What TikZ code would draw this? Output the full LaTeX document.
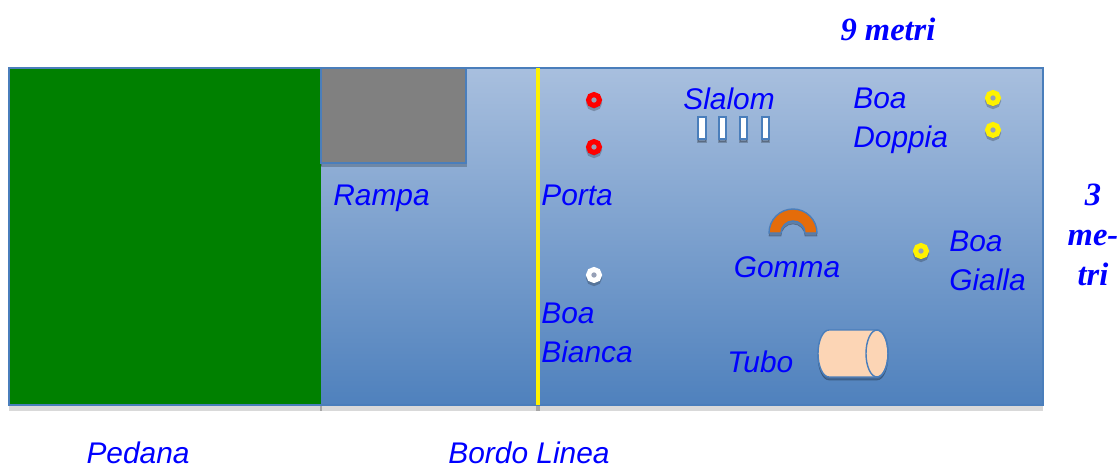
\documentclass[tikz,border=0pt]{standalone}
\usepackage{fontspec}
\setmainfont{Liberation Serif}
\setsansfont{Liberation Sans}
\usetikzlibrary{%
	calc,%
	positioning%
}
\definecolor{acquaalto}{RGB}{168,191,222}
\definecolor{acquabasso}{RGB}{79,129,189}
\definecolor{bordo}{RGB}{74,126,187}
\definecolor{pedana}{RGB}{0,128,0}
\definecolor{rampa}{RGB}{128,128,128}
\definecolor{gomma}{RGB}{228,108,10}
\definecolor{tubo}{RGB}{252,213,181}
\definecolor{foro}{RGB}{150,160,182}

\tikzset{
	lbl/.style={text=blue,inner sep=0pt,align=left,
		font=\sffamily\itshape\fontsize{17}{21.8}\selectfont},
	misura/.style={text=blue,inner sep=0pt,align=center,
		font=\rmfamily\bfseries\itshape\fontsize{18.5}{22.8}\selectfont},
	ombra/.style={preaction={draw=black,fill=black,opacity=.22,
		transform canvas={yshift=-0.06cm}}},
	boa/.style={circle,draw=#1,fill=foro,line width=0.1cm,
		minimum size=0.22cm,inner sep=0pt,ombra},
	paletto/.style={rectangle,draw=bordo,fill=white,line width=1pt,
		minimum width=0.15cm,minimum height=0.45cm,inner sep=0pt,ombra}
}

\begin{document}
\begin{tikzpicture}[x=0.02cm,y=-0.02cm]
	\useasboundingbox (0,0) rectangle (1119,470);
	% vasca
	\shade[top color=acquaalto,bottom color=acquabasso] (9,68) rectangle (1043,405);
	\fill[black!15] (9,405) rectangle (1043,411);
	\fill[black!35] (320,405) rectangle (322,411);
	\fill[black!35] (536,405) rectangle (540,411);
	\fill[pedana] (9,68) rectangle (321,405);
	\filldraw[fill=rampa,draw=bordo,line width=0.8pt,ombra] (321,68) rectangle (466,163);
	\draw[bordo,line width=0.85pt] (9,68) rectangle (1043,405);
	\draw[yellow,line width=0.08cm] (538,68) -- (538,405);
	% boe
	\node[boa=red] (porta1) at (594,100) {};
	\node[boa=red] (porta2) at (594,147) {};
	\node[boa=white] (bianca) at (594,275) {};
	\node[boa=yellow] (doppia1) at (993,98) {};
	\node[boa=yellow] (doppia2) at (993,130) {};
	\node[boa=yellow] (gialla) at (921,251) {};
	% slalom
	\node[paletto] (s1) at (702,128) {};
	\node[paletto] (s2) at (722.5,128) {};
	\node[paletto] (s3) at (743.5,128) {};
	\node[paletto] (s4) at (765.5,128) {};
	% gomma e tubo
	\filldraw[fill=gomma,draw=bordo,line width=0.8pt,ombra] (769,233)
		arc[start angle=180,end angle=360,radius=24] -- (805,233)
		arc[start angle=0,end angle=-180,radius=12] -- cycle;
	\filldraw[fill=tubo,draw=bordo,line width=0.8pt,ombra] (829,330) -- (877,330)
		arc[start angle=270,end angle=450,x radius=11,y radius=23.5] -- (829,377)
		arc[start angle=90,end angle=270,x radius=11,y radius=23.5] -- cycle;
	\draw[bordo,line width=0.8pt] (877,353.5) ellipse[x radius=11,y radius=23.5];
	% scritte
	\node[lbl,anchor=base] (slalom) at (729,109) {Slalom};
	\node[lbl,anchor=north west] (doppia) at (853,88) {Boa\\Doppia};
	\node[lbl,anchor=base west] (rampaT) at (333,205) {Rampa};
	\node[lbl,anchor=base west] (porta) at (541,205) {Porta};
	\node[lbl,anchor=north west] (biancaT) at (541,303) {Boa\\Bianca};
	\node[lbl,anchor=base] (gommaT) at (787,277) {Gomma};
	\node[lbl,anchor=north west] (giallaT) at (949,231) {Boa\\Gialla};
	\node[lbl,anchor=base west] (tuboT) at (727,372) {Tubo};
	\node[lbl,anchor=base] (pedanaT) at (138,463) {Pedana};
	\node[lbl,anchor=base] (lineaT) at (529,463) {Bordo Linea};
	\node[misura,anchor=base] (lung) at (888,40) {9 metri};
	\node[misura,anchor=north] (larg) at (1093,184) {3\\me-\\tri};
\end{tikzpicture}
\end{document}
